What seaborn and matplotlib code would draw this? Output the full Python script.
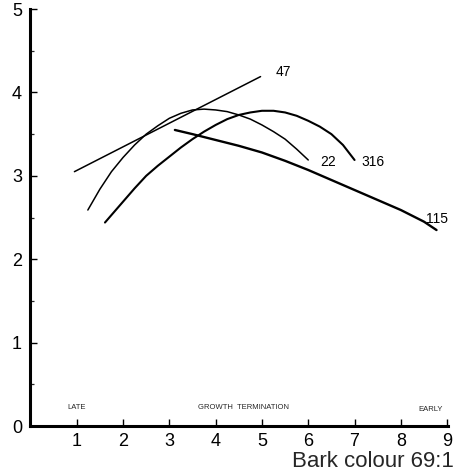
import matplotlib
matplotlib.use("Agg")
import matplotlib.pyplot as plt
import seaborn as sns
import pandas as pd
from matplotlib.ticker import MultipleLocator

# Data
x47 = [0.95, 4.97]
y47 = [3.05, 4.19]

x22 = [1.24, 1.5, 1.75, 2.0, 2.25, 2.5, 2.75, 3.0, 3.25, 3.5, 3.75, 4.0,
       4.25, 4.5, 4.75, 5.0, 5.25, 5.5, 5.75, 6.0]
y22 = [2.59, 2.84, 3.05, 3.22, 3.37, 3.50, 3.60, 3.69, 3.75, 3.79, 3.80, 3.79,
       3.77, 3.73, 3.68, 3.61, 3.53, 3.44, 3.32, 3.19]

x316 = [1.61, 1.75, 2.0, 2.25, 2.5, 2.75, 3.0, 3.25, 3.5, 3.75, 4.0, 4.25,
        4.5, 4.75, 5.0, 5.25, 5.5, 5.75, 6.0, 6.25, 6.5, 6.75, 7.0]
y316 = [2.44, 2.53, 2.69, 2.85, 3.00, 3.12, 3.23, 3.34, 3.44, 3.53, 3.61, 3.68,
        3.73, 3.76, 3.78, 3.78, 3.76, 3.72, 3.66, 3.59, 3.50, 3.37, 3.19]

x115 = [3.12, 3.5, 4.0, 4.5, 5.0, 5.5, 6.0, 6.5, 7.0, 7.5, 8.0, 8.5, 8.77]
y115 = [3.55, 3.50, 3.43, 3.36, 3.28, 3.18, 3.07, 2.95, 2.83, 2.71, 2.59, 2.45, 2.35]

series_labels = ["47", "22", "316", "115"]
label_x = [5.46, 6.43, 7.39, 8.79]
label_y = [4.25, 3.17, 3.17, 2.48]

x_ticks = [1, 2, 3, 4, 5, 6, 7, 8, 9]
y_ticks = [0, 1, 2, 3, 4, 5]

sns.set_style("ticks")
plt.rcParams['font.family'] = ['Liberation Sans', 'DejaVu Sans']

fig = plt.figure(figsize=(4.61, 4.76), dpi=100)
ax = fig.add_axes([0.066, 0.105, 0.906, 0.876])

series = [(x47, y47, 1.1), (x22, y22, 1.1), (x316, y316, 1.5), (x115, y115, 1.7)]
for xs, ys, lw in series:
    df = pd.DataFrame({"x": xs, "y": ys})
    sns.lineplot(data=df, x="x", y="y", sort=False, color="black",
                 linewidth=lw, ax=ax, estimator=None)

for lab, lx, ly in zip(series_labels, label_x, label_y):
    ax.text(lx, ly, lab, fontsize=10, ha="center", va="center", color="black")

ax.text(1.0, 0.22, "LATE", fontsize=5.5, ha="center", va="center")
ax.text(4.6, 0.22, "GROWTH  TERMINATION", fontsize=5.5, ha="center", va="center")
ax.text(8.64, 0.20, "EARLY", fontsize=5.5, ha="center", va="center")

ax.set_xlim(0, 9.02)
ax.set_ylim(0, 5)
ax.set_xticks(x_ticks)
ax.set_yticks(y_ticks)
ax.yaxis.set_minor_locator(MultipleLocator(0.5))
ax.tick_params(axis="both", which="major", direction="in", length=5, width=1.0,
               labelsize=13, colors="black")
ax.tick_params(axis="y", which="minor", direction="in", length=3, width=0.9)
ax.tick_params(axis="x", which="major", pad=5)
ax.tick_params(axis="y", which="major", pad=6)

sns.despine(ax=ax)
for s in ["left", "bottom"]:
    ax.spines[s].set_linewidth(2.2)
    ax.spines[s].set_color("black")

ax.set_xlabel("")
ax.set_ylabel("")
fig.text(0.985, 0.019, "Bark colour 69:1", fontsize=16, ha="right", va="baseline")

fig.savefig("out.png", dpi=100, facecolor="white")
